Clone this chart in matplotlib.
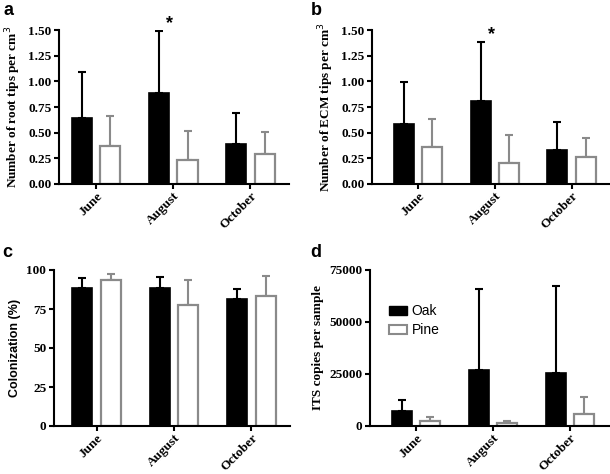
import matplotlib
matplotlib.use("Agg")
import matplotlib.pyplot as plt
import numpy as np
from matplotlib.patches import Patch

months = ["June", "August", "October"]

a_oak = [0.64, 0.89, 0.39]
a_oak_err = [0.455, 0.605, 0.298]
a_pine = [0.373, 0.234, 0.292]
a_pine_err = [0.287, 0.282, 0.211]

b_oak = [0.581, 0.808, 0.331]
b_oak_err = [0.416, 0.578, 0.269]
b_pine = [0.36, 0.208, 0.26]
b_pine_err = [0.27, 0.269, 0.191]

c_oak = [88.7, 88.7, 81.4]
c_oak_err = [6.4, 7.1, 6.4]
c_pine = [93.4, 77.5, 83.3]
c_pine_err = [4.2, 15.9, 13.1]

d_oak = [7200, 27100, 25500]
d_oak_err = [5500, 39000, 41900]
d_pine = [2250, 1450, 5800]
d_pine_err = [1950, 950, 8000]

SERIF = "Liberation Serif"
SANS = "Liberation Sans"
GRAY = "#8a8a8a"

fig = plt.figure(figsize=(6.1, 4.74), dpi=100)

def panel(rect, oak, oak_err, pine, pine_err, ylim, yticks, yticklabels, ylabel,
          xlim, letter, letter_xy, ylabel_font=SERIF, star=False):
    ax = fig.add_axes(rect)
    x = np.arange(len(months))
    w = 0.26
    off = 0.185
    ax.bar(x - off, oak, w, color="black", edgecolor="black", linewidth=1.2, zorder=2)
    ax.bar(x + off, pine, w, color="white", edgecolor=GRAY, linewidth=1.6, zorder=2)
    ax.errorbar(x - off, oak, yerr=[np.zeros(3), oak_err], fmt="none", ecolor="black",
                elinewidth=1.5, capsize=3.0, capthick=1.5, zorder=1)
    ax.errorbar(x + off, pine, yerr=[np.zeros(3), pine_err], fmt="none", ecolor=GRAY,
                elinewidth=1.5, capsize=3.0, capthick=1.5, zorder=1)
    ax.set_ylim(*ylim)
    ax.set_xlim(*xlim)
    ax.set_yticks(yticks)
    ax.set_yticklabels(yticklabels, fontfamily=SERIF, fontweight="bold", fontsize=9.5)
    ax.set_xticks(x)
    ax.set_xticklabels(months, rotation=45, ha="right", rotation_mode="anchor",
                       fontfamily=SERIF, fontweight="bold", fontsize=9.5)
    ax.set_ylabel(ylabel, fontfamily=ylabel_font, fontweight="bold",
                  fontsize=9.5 if ylabel_font == SERIF else 9, labelpad=4)
    for s in ["top", "right"]:
        ax.spines[s].set_visible(False)
    for s in ["left", "bottom"]:
        ax.spines[s].set_linewidth(1.5)
    ax.tick_params(axis="both", width=1.5, length=3.5, pad=2)
    ax.tick_params(axis="x", pad=1)
    ax.spines["bottom"].set_zorder(3)
    fig.text(letter_xy[0], letter_xy[1], letter, fontfamily=SANS, fontweight="bold",
             fontsize=13, ha="left", va="top")
    if star:
        ax.annotate("*", xy=(1 - off + 0.14, oak[1] + oak_err[1]), xytext=(0, 5),
                    textcoords="offset points", fontfamily=SANS, fontweight="bold",
                    fontsize=13, ha="center", va="center")
    return ax

panel([59/610, 290/474, 230/610, 154/474], a_oak, a_oak_err, a_pine, a_pine_err,
      (0, 1.5), [0, 0.25, 0.5, 0.75, 1.0, 1.25, 1.5],
      ["0.00", "0.25", "0.50", "0.75", "1.00", "1.25", "1.50"],
      "Number of root tips per cm$^3$", (-0.48, 2.5), "a", (4/610, 1 - 2/474), star=True)

panel([372/610, 290/474, 238/610, 154/474], b_oak, b_oak_err, b_pine, b_pine_err,
      (0, 1.5), [0, 0.25, 0.5, 0.75, 1.0, 1.25, 1.5],
      ["0.00", "0.25", "0.50", "0.75", "1.00", "1.25", "1.50"],
      "Number of ECM tips per cm$^3$", (-0.6, 2.5), "b", (311/610, 1 - 2/474), star=True)

panel([54/610, 48/474, 236/610, 156/474], c_oak, c_oak_err, c_pine, c_pine_err,
      (0, 100), [0, 25, 50, 75, 100], ["0", "25", "50", "75", "100"],
      "Colonization (%)", (-0.55, 2.5), "c", (2/610, 1 - 244/474), ylabel_font=SANS)

axd = panel([370/610, 48/474, 240/610, 156/474], d_oak, d_oak_err, d_pine, d_pine_err,
      (0, 75000), [0, 25000, 50000, 75000], ["0", "25000", "50000", "75000"],
      "ITS copies per sample", (-0.6, 2.52), "d", (310/610, 1 - 244/474))

handles = [Patch(facecolor="black", edgecolor="black", label="Oak"),
           Patch(facecolor="white", edgecolor=GRAY, linewidth=1.5, label="Pine")]
axd.legend(handles=handles, loc="upper left", bbox_to_anchor=(0.08, 0.78), frameon=False,
           prop={"family": SANS, "size": 10}, handlelength=1.25, handleheight=0.6,
           handletextpad=0.35, labelspacing=0.35, borderpad=0, borderaxespad=0)

fig.savefig("out.png", dpi=100)
